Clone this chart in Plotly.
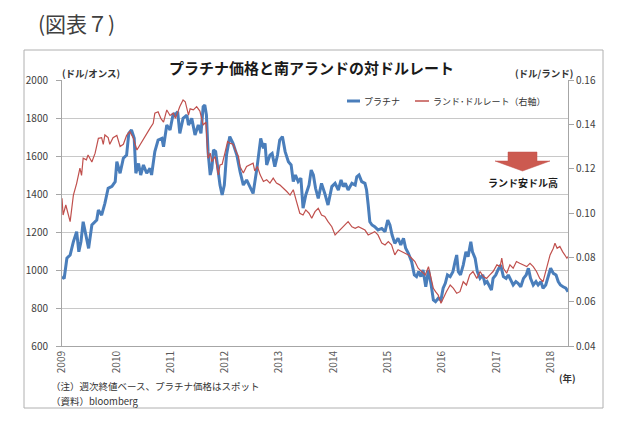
import plotly.graph_objects as go

# ---------------- data ----------------
plat_x = [2009.00, 2009.04, 2009.09, 2009.15, 2009.21, 2009.27, 2009.31, 2009.35, 2009.39, 2009.49,
          2009.55, 2009.64, 2009.67, 2009.73, 2009.79, 2009.85, 2009.92, 2009.98, 2010.01, 2010.07,
          2010.13, 2010.19, 2010.23, 2010.28, 2010.33, 2010.36, 2010.41, 2010.45, 2010.50, 2010.56,
          2010.62, 2010.65, 2010.71, 2010.77, 2010.84, 2010.87, 2010.93, 2010.99, 2011.05, 2011.08,
          2011.13, 2011.17, 2011.23, 2011.30, 2011.33, 2011.39, 2011.45, 2011.51, 2011.56, 2011.60,
          2011.63, 2011.66, 2011.69, 2011.73, 2011.76, 2011.79, 2011.83, 2011.88, 2011.91, 2011.95,
          2011.99, 2012.03, 2012.09, 2012.15, 2012.22, 2012.28, 2012.34, 2012.40, 2012.46, 2012.52,
          2012.59, 2012.63, 2012.66, 2012.71, 2012.74, 2012.77, 2012.83, 2012.87, 2012.92, 2012.97,
          2013.01, 2013.06, 2013.11, 2013.17, 2013.22, 2013.26, 2013.30, 2013.35, 2013.40, 2013.44,
          2013.49, 2013.55, 2013.59, 2013.63, 2013.67, 2013.72, 2013.78, 2013.84, 2013.90, 2013.97,
          2014.03, 2014.09, 2014.14, 2014.18, 2014.22, 2014.27, 2014.34, 2014.40, 2014.43, 2014.47,
          2014.52, 2014.58, 2014.61, 2014.64, 2014.67, 2014.71, 2014.76, 2014.82, 2014.89, 2014.95,
          2015.00, 2015.04, 2015.08, 2015.13, 2015.19, 2015.24, 2015.29, 2015.33, 2015.38, 2015.44,
          2015.49, 2015.53, 2015.57, 2015.61, 2015.65, 2015.70, 2015.75, 2015.80, 2015.84, 2015.88,
          2015.93, 2015.98, 2016.02, 2016.06, 2016.10, 2016.15, 2016.20, 2016.24, 2016.27, 2016.30,
          2016.34, 2016.39, 2016.44, 2016.48, 2016.53, 2016.56, 2016.61, 2016.65, 2016.70, 2016.75,
          2016.79, 2016.83, 2016.88, 2016.91, 2016.94, 2016.99, 2017.03, 2017.08, 2017.13, 2017.18,
          2017.22, 2017.26, 2017.31, 2017.36, 2017.40, 2017.45, 2017.50, 2017.55, 2017.59, 2017.63,
          2017.68, 2017.73, 2017.77, 2017.82, 2017.86, 2017.91, 2017.96, 2018.00, 2018.05, 2018.10,
          2018.14, 2018.18, 2018.23, 2018.28, 2018.32]
plat_y = [965, 955, 1062, 1079, 1149, 1202, 1096, 1150, 1254, 1114,
          1237, 1263, 1316, 1289, 1351, 1430, 1440, 1465, 1570, 1509,
          1588, 1605, 1719, 1737, 1693, 1509, 1561, 1500, 1553, 1509,
          1535, 1500, 1623, 1684, 1693, 1649, 1763, 1737, 1825, 1815,
          1833, 1719, 1798, 1815, 1763, 1798, 1711, 1763, 1719, 1860,
          1868, 1816, 1623, 1500, 1535, 1632, 1623, 1517, 1447, 1395,
          1447, 1605, 1702, 1667, 1605, 1517, 1447, 1474, 1439, 1403,
          1535, 1640, 1693, 1640, 1667, 1553, 1605, 1614, 1544, 1605,
          1684, 1702, 1623, 1570, 1553, 1465, 1500, 1465, 1483, 1325,
          1395, 1447, 1526, 1500, 1430, 1377, 1456, 1403, 1342, 1439,
          1456, 1421, 1474, 1439, 1456, 1421, 1456, 1447, 1491, 1500,
          1465, 1456, 1421, 1342, 1254, 1237, 1228, 1211, 1219, 1202,
          1263, 1237, 1184, 1140, 1167, 1132, 1167, 1114, 1088, 1044,
          974, 965, 991, 965, 1000, 912, 1000, 921, 842, 833,
          851, 842, 904, 930, 974, 965, 991, 1044, 1079, 991,
          974, 1026, 1096, 1070, 1149, 1096, 1061, 991, 956, 974,
          930, 939, 912, 895, 956, 974, 1000, 1026, 965, 956,
          974, 947, 921, 939, 930, 912, 956, 974, 1009, 956,
          921, 939, 921, 939, 904, 921, 974, 1009, 982, 974,
          939, 921, 912, 904, 886]

rand_x = [2009.00, 2009.02, 2009.07, 2009.12, 2009.15, 2009.21, 2009.27, 2009.33, 2009.36, 2009.39,
          2009.45, 2009.48, 2009.55, 2009.61, 2009.67, 2009.73, 2009.76, 2009.79, 2009.85, 2009.88,
          2009.94, 2010.01, 2010.07, 2010.13, 2010.19, 2010.25, 2010.31, 2010.38, 2010.44, 2010.50,
          2010.56, 2010.62, 2010.68, 2010.71, 2010.77, 2010.82, 2010.87, 2010.93, 2010.99, 2011.05,
          2011.09, 2011.17, 2011.23, 2011.27, 2011.33, 2011.36, 2011.42, 2011.48, 2011.54, 2011.60,
          2011.65, 2011.69, 2011.73, 2011.76, 2011.82, 2011.85, 2011.88, 2011.91, 2011.95, 2012.00,
          2012.05, 2012.09, 2012.15, 2012.22, 2012.25, 2012.28, 2012.34, 2012.40, 2012.46, 2012.52,
          2012.55, 2012.60, 2012.65, 2012.71, 2012.77, 2012.83, 2012.89, 2012.95, 2013.01, 2013.08,
          2013.14, 2013.20, 2013.26, 2013.32, 2013.38, 2013.44, 2013.49, 2013.55, 2013.60, 2013.66,
          2013.72, 2013.78, 2013.84, 2013.90, 2013.97, 2014.03, 2014.09, 2014.15, 2014.21, 2014.27,
          2014.34, 2014.40, 2014.46, 2014.52, 2014.58, 2014.64, 2014.70, 2014.76, 2014.82, 2014.89,
          2014.95, 2015.01, 2015.07, 2015.13, 2015.19, 2015.26, 2015.32, 2015.38, 2015.44, 2015.50,
          2015.56, 2015.62, 2015.69, 2015.75, 2015.78, 2015.84, 2015.88, 2015.93, 2015.98, 2016.02,
          2016.08, 2016.15, 2016.21, 2016.27, 2016.33, 2016.39, 2016.45, 2016.51, 2016.57, 2016.64,
          2016.70, 2016.76, 2016.82, 2016.88, 2016.94, 2017.01, 2017.07, 2017.10, 2017.13, 2017.19,
          2017.25, 2017.31, 2017.37, 2017.43, 2017.50, 2017.56, 2017.62, 2017.68, 2017.74, 2017.80,
          2017.86, 2017.93, 2017.99, 2018.05, 2018.08, 2018.12, 2018.17, 2018.22, 2018.26, 2018.30,
          2018.32]
rand_y = [0.1066, 0.0991, 0.1036, 0.0987, 0.0961, 0.1081, 0.1134, 0.1202, 0.1170, 0.1247,
          0.1240, 0.1262, 0.1230, 0.1270, 0.1337, 0.1340, 0.1310, 0.1352, 0.1340, 0.1310,
          0.1340, 0.1350, 0.1300, 0.1310, 0.1350, 0.1367, 0.1340, 0.1284, 0.1310, 0.1330,
          0.1360, 0.1382, 0.1405, 0.1450, 0.1457, 0.1427, 0.1410, 0.1465, 0.1440, 0.1450,
          0.1427, 0.1480, 0.1510, 0.1502, 0.1442, 0.1470, 0.1465, 0.1480, 0.1460, 0.1397,
          0.1410, 0.1247, 0.1270, 0.1232, 0.1255, 0.1217, 0.1172, 0.1217, 0.1220, 0.1270,
          0.1322, 0.1315, 0.1310, 0.1270, 0.1255, 0.1209, 0.1180, 0.1210, 0.1217, 0.1225,
          0.1190, 0.1210, 0.1172, 0.1142, 0.1150, 0.1135, 0.1157, 0.1135, 0.1127, 0.1112,
          0.1097, 0.1081, 0.1105, 0.1051, 0.0999, 0.0991, 0.1014, 0.0999, 0.0976, 0.1006,
          0.1021, 0.0991, 0.0984, 0.0961, 0.0938, 0.0901, 0.0916, 0.0931, 0.0946, 0.0961,
          0.0938, 0.0931, 0.0938, 0.0931, 0.0923, 0.0901, 0.0908, 0.0916, 0.0901, 0.0864,
          0.0856, 0.0871, 0.0856, 0.0811, 0.0834, 0.0826, 0.0819, 0.0811, 0.0796, 0.0781,
          0.0751, 0.0736, 0.0721, 0.0758, 0.0721, 0.0660, 0.0645, 0.0630, 0.0593, 0.0615,
          0.0645, 0.0675, 0.0660, 0.0638, 0.0645, 0.0690, 0.0675, 0.0721, 0.0736, 0.0705,
          0.0736, 0.0713, 0.0705, 0.0721, 0.0736, 0.0766, 0.0758, 0.0796, 0.0751, 0.0728,
          0.0766, 0.0751, 0.0781, 0.0773, 0.0766, 0.0758, 0.0773, 0.0758, 0.0736, 0.0705,
          0.0690, 0.0751, 0.0811, 0.0841, 0.0864, 0.0841, 0.0849, 0.0826, 0.0811, 0.0796,
          0.0804]

year_ticks = [2009, 2010, 2011, 2012, 2013, 2014, 2015, 2016, 2017, 2018]
year_labels = [str(y) for y in year_ticks]
left_ticks = [600, 800, 1000, 1200, 1400, 1600, 1800, 2000]
right_ticks = [0.04, 0.06, 0.08, 0.10, 0.12, 0.14, 0.16]
x_range = [2009, 2018.32]

# ---------------- layout helpers ----------------
W, H = 630, 428
L, R, T, B = 62, 62, 80, 82
PW, PH = W - L - R, H - T - B
def px(x):
    return (x - L) / PW
def py(y):
    return (H - B - y) / PH

FONT = "Noto Sans CJK JP, Noto Sans, sans-serif"
BLUE = "#4a7ebb"
RED = "#c0504d"
TXT = "#404040"
AX = "#a6a6a6"

fig = go.Figure()
fig.add_trace(go.Scatter(x=plat_x, y=plat_y, mode="lines", name="プラチナ",
                         line=dict(color=BLUE, width=3), showlegend=False))
fig.add_trace(go.Scatter(x=rand_x, y=rand_y, mode="lines", name="ランド・ドルレート（右軸）",
                         line=dict(color=RED, width=1.2), yaxis="y2", showlegend=False))

fig.update_layout(
    width=W, height=H,
    margin=dict(l=L, r=R, t=T, b=B, autoexpand=False),
    paper_bgcolor="white", plot_bgcolor="white",
    font=dict(family=FONT, size=10, color=TXT),
    xaxis=dict(range=x_range, tickvals=year_ticks, ticktext=year_labels, tickangle=-90,
               showgrid=False, zeroline=False, showline=True, linecolor=AX, linewidth=1,
               ticks="", tickfont=dict(size=10, color="#595959")),
    yaxis=dict(range=[600, 2000], tickvals=left_ticks, showgrid=True, gridcolor="#c8c8c8",
               gridwidth=1, zeroline=False, showline=True, linecolor=AX, ticks="outside",
               ticklen=5, tickcolor=AX, tickfont=dict(size=10, color=TXT), ticklabelstandoff=6),
    yaxis2=dict(range=[0.04, 0.16], tickvals=right_ticks, tickformat=".2f", overlaying="y",
                side="right", showgrid=False, zeroline=False, showline=True, linecolor=AX,
                ticks="outside", ticklen=5, tickcolor=AX, tickfont=dict(size=10, color=TXT)),
)

shapes = [
    # chart frame
    dict(type="rect", xref="paper", yref="paper", x0=px(24), x1=px(603), y0=py(408), y1=py(50),
         line=dict(color="#b0b0b0", width=1), layer="below"),
    # legend samples
    dict(type="line", xref="paper", yref="paper", x0=px(347), x1=px(360), y0=py(101), y1=py(101),
         line=dict(color=BLUE, width=3)),
    dict(type="line", xref="paper", yref="paper", x0=px(415), x1=px(429), y0=py(101), y1=py(101),
         line=dict(color=RED, width=1.5)),
    # arrow
    dict(type="path", xref="paper", yref="paper",
         path=(f"M {px(508)},{py(152)} L {px(537)},{py(152)} L {px(537)},{py(161)} "
               f"L {px(550)},{py(161)} L {px(522.5)},{py(171)} L {px(495)},{py(161)} "
               f"L {px(508)},{py(161)} Z"),
         fillcolor="#cc5a50", line=dict(color="#c0504d", width=0.5)),
]
fig.update_layout(shapes=shapes)

def ann(text, x, y, size=10, xanchor="left", color=TXT, **kw):
    return dict(text=text, x=px(x), y=py(y), xref="paper", yref="paper", showarrow=False,
                xanchor=xanchor, yanchor="middle", font=dict(size=size, color=color, family=FONT), **kw)

annotations = [
    ann("(図表７)", 36, 23, size=21, color="#404040"),
    ann("<b>プラチナ価格と南アランドの対ドルレート</b>", 311, 68, size=15, xanchor="center", color="#1a1a1a"),
    ann("<b>(ドル/オンス)</b>", 60, 73, size=9.5, color="#333333"),
    ann("<b>(ドル/ランド)</b>", 513, 73, size=9.5, color="#333333"),
    ann("プラチナ", 362, 101, size=9, color="#333333"),
    ann("ランド･ドルレート（右軸）", 431, 101, size=9, color="#333333"),
    ann("<b>ランド安ドル高</b>", 523, 182, size=10, xanchor="center", color="#1a1a1a"),
    ann("<b>(年)</b>", 557, 378, size=9.5, color="#333333"),
    ann("（注）週次終値ベース、プラチナ価格はスポット", 49, 386, size=9.5, color="#333333"),
    ann("（資料）bloomberg", 49, 401, size=9.5, color="#333333"),
]
fig.update_layout(annotations=annotations)

fig.write_html("out.html", config={"displayModeBar": False},
               post_script="document.body.style.margin='0';")
